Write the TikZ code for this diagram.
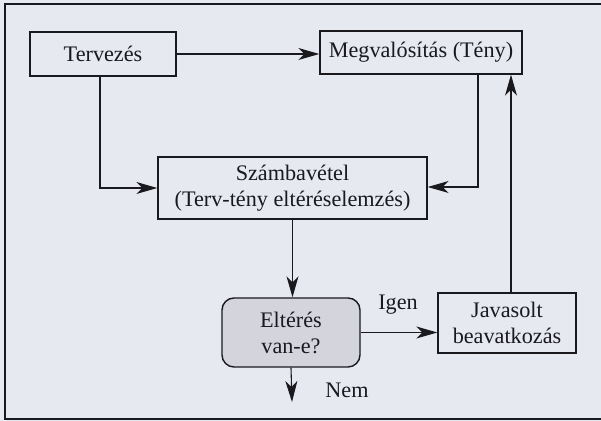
\documentclass[tikz,border=0pt]{standalone}
\usepackage{fontspec}
\setmainfont{Liberation Serif}
\usetikzlibrary{arrows.meta}
\definecolor{bgcol}{RGB}{231,233,241}
\definecolor{eltfill}{RGB}{212,213,220}
\definecolor{ink}{RGB}{25,25,30}
\begin{document}
\begin{tikzpicture}[x=0.5pt,y=-0.5pt,
  font=\fontsize{11.1}{13}\selectfont,
  box/.style={draw=ink,line width=0.7pt,align=center,inner sep=0pt,text=ink},
  arr/.style={draw=ink,line width=0.55pt,-{Stealth[length=10.5pt,width=6pt,inset=3pt]}},
  lbl/.style={text=ink,inner sep=0pt}]
\fill[bgcol] (0,0) rectangle (601,421);
\useasboundingbox (0,0) rectangle (601,421);
\draw[ink,line width=1pt] (601,4) -- (5,4) -- (5,419) -- (601,419);
\node[box,minimum width=73pt,minimum height=22pt] (terv) at (103,54) {Tervezés};
\node[box,minimum width=101pt,minimum height=21.5pt] (megv) at (421,52.5) {Megvalósítás (Tény)};
\node[box,minimum width=134.5pt,minimum height=31pt] (szamb) at (292.5,188) {Számbavétel\\(Terv-tény eltéréselemzés)};
\node[box,fill=eltfill,rounded corners=6pt,minimum width=69pt,minimum height=34.5pt] (elt) at (291,332.5) {Eltérés\\van-e?};
\node[box,minimum width=69pt,minimum height=30pt] (jav) at (507,323) {Javasolt\\beavatkozás};
\coordinate (end) at (292,402);
\draw[arr] (terv.east) -- (terv.east -| megv.west);
\draw[arr] ([xshift=-1.5pt]terv.south) |- (szamb.west);
\draw[arr] ([xshift=28.5pt]megv.south) |- ([yshift=0.5pt]szamb.east);
\draw[arr] ([xshift=2pt]jav.north) -- ([xshift=2pt]jav.north |- megv.south);
\draw[arr] (szamb.south) -- (szamb.south |- elt.north);
\draw[arr] (elt.south) -- (end);
\draw[arr] (elt.east) -- (elt.east -| jav.west);
\node[lbl] (igen) at (398,305) {Igen};
\node[lbl] (nem) at (347,390) {Nem};
\end{tikzpicture}
\end{document}
